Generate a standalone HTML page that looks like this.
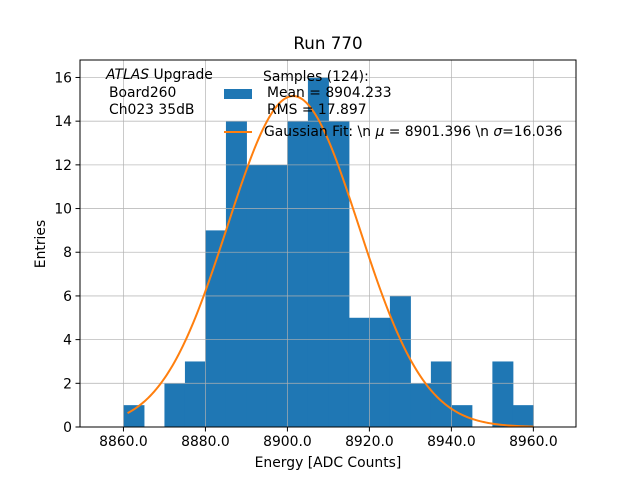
<!DOCTYPE html>
<html><head><meta charset="utf-8"><style>
body{margin:0;background:#fff;font-family:"Liberation Sans","DejaVu Sans",sans-serif}
text{font-family:"DejaVu Sans","Liberation Sans",sans-serif}
</style></head><body>
<svg id="c" width="640" height="480" xmlns="http://www.w3.org/2000/svg">
<rect width="640" height="480" fill="#fff"/>
<g id="bars"></g><g id="grid"></g><g id="fit"></g><g id="axes"></g>
</svg>
<script>
const binStarts=[8860,8865,8870,8875,8880,8885,8890,8895,8900,8905,8910,8915,8920,8925,8930,8935,8940,8945,8950,8955];
const counts=[1,0,2,3,9,14,12,12,14,16,14,5,5,6,2,3,1,0,3,1];
const binWidth=5;
const xTicks=[8860,8880,8900,8920,8940,8960];
const yTicks=[0,2,4,6,8,10,12,14,16];
const fitMu=8901.396, fitSigma=16.036, fitAmp=15.15;
const L=80,R=576,T=60,B=427;
const xmin=8849.4,xmax=8970.4,ymin=0,ymax=16.8;
const X=v=>L+(v-xmin)/(xmax-xmin)*(R-L);
const Y=v=>B-(v-ymin)/(ymax-ymin)*(B-T);
const NS='http://www.w3.org/2000/svg';
function mk(p,tag,at){const e=document.createElementNS(NS,tag);for(const k in at)e.setAttribute(k,at[k]);p.appendChild(e);return e;}
const g=document.getElementById('grid'),b=document.getElementById('bars'),f=document.getElementById('fit'),a=document.getElementById('axes');
binStarts.forEach((s,i)=>{if(!counts[i])return;const r=mk(b,'rect',{x:X(s),y:Y(counts[i]),width:X(s+binWidth)-X(s)+0.5,height:Y(0)-Y(counts[i]),fill:'#1f77b4'});

});
xTicks.forEach(t=>{const l=mk(g,'line',{x1:X(t),x2:X(t),y1:T,y2:B,stroke:'#b0b0b0','stroke-width':0.8,'stroke-opacity':0.85});

});
yTicks.forEach(t=>{const l=mk(g,'line',{x1:L,x2:R,y1:Y(t),y2:Y(t),stroke:'#b0b0b0','stroke-width':0.8,'stroke-opacity':0.85});

});
let d='';for(let v=8861;v<=8960;v+=0.5){const y=fitAmp*Math.exp(-0.5*((v-fitMu)/fitSigma)**2);d+=(d?'L':'M')+X(v).toFixed(2)+','+Y(y).toFixed(2);}
const pl=mk(f,'path',{d:d,fill:'none',stroke:'#ff7f0e','stroke-width':2});


const fr=mk(a,'rect',{x:L,y:T,width:R-L,height:B-T,fill:'none',stroke:'#000','stroke-width':1});


xTicks.forEach(t=>{mk(a,'line',{x1:X(t),x2:X(t),y1:B,y2:B+4.5,stroke:'#000','stroke-width':1});
const tx=mk(a,'text',{x:X(t),y:B+19,'text-anchor':'middle','font-size':13.9});tx.textContent=t.toFixed(1);

});
yTicks.forEach(t=>{mk(a,'line',{x1:L-4.5,x2:L,y1:Y(t),y2:Y(t),stroke:'#000','stroke-width':1});
const tx=mk(a,'text',{x:L-8,y:Y(t)+5,'text-anchor':'end','font-size':13.9});tx.textContent=t;

});
</script>
<svg width="640" height="480" style="position:absolute;left:0;top:0" xmlns="http://www.w3.org/2000/svg">
<text x="328" y="49" text-anchor="middle" font-size="16.7">Run 770</text>
<text x="328" y="467" text-anchor="middle" font-size="13.9">Energy [ADC Counts]</text>
<text x="45" y="244" text-anchor="middle" font-size="13.9" transform="rotate(-90 45 244)">Entries</text>
<g font-size="13.9">
<text x="106" y="79"><tspan font-style="italic">ATLAS</tspan> Upgrade</text>
<text x="109" y="97">Board260</text>
<text x="109" y="114">Ch023 35dB</text>
</g>
<g font-size="13.9">
<text x="263" y="81">Samples (124):</text>
<rect x="224" y="89" width="28" height="10" fill="#1f77b4"/>
<text x="267" y="97">Mean = 8904.233</text>
<text x="267" y="114">RMS = 17.897</text>
<line x1="224" x2="252" y1="132" y2="132" stroke="#ff7f0e" stroke-width="2"/>
<text x="264" y="136">Gaussian Fit: \n <tspan font-style="italic">μ</tspan> = 8901.396 \n <tspan font-style="italic">σ</tspan>=16.036</text>
</g>
</svg>
</body></html>
